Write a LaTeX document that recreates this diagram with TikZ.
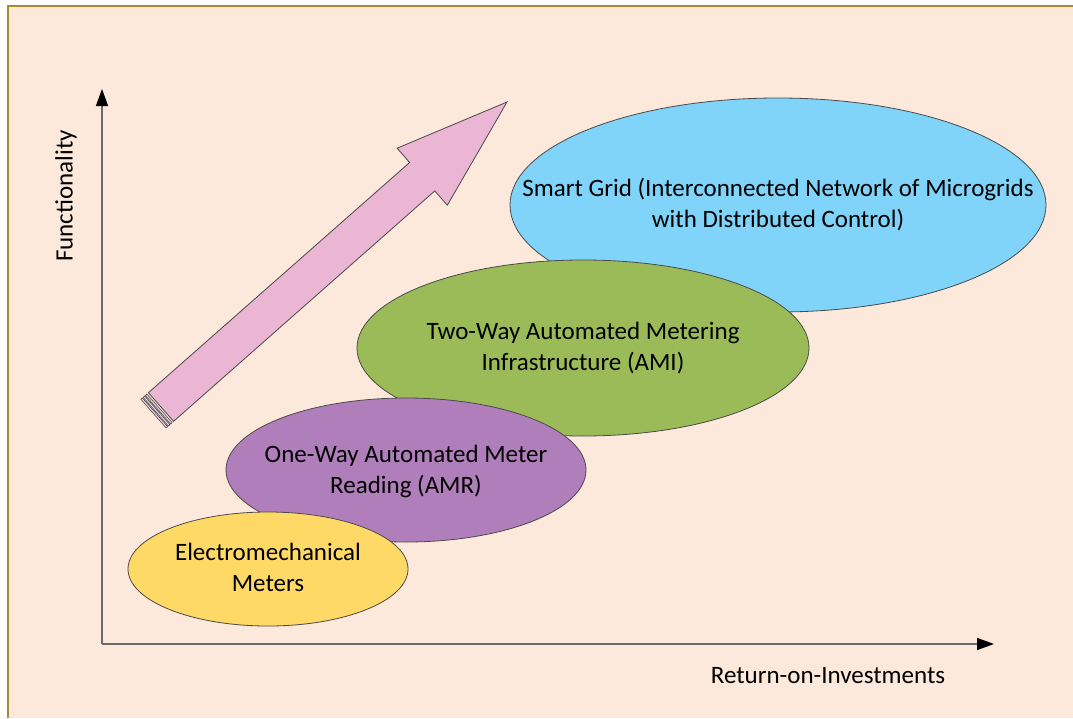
\documentclass[tikz,border=0pt]{standalone}
\usepackage{fontspec}
\setmainfont{Carlito}
\usetikzlibrary{arrows.meta,shapes.geometric,calc}

\definecolor{pagebg}{HTML}{FCE9DB}
\definecolor{framecol}{HTML}{A88B2C}
\definecolor{edgecol}{HTML}{4A4A4A}
\definecolor{meteryellow}{HTML}{FFD966}
\definecolor{amrpurple}{HTML}{B07EBA}
\definecolor{amigreen}{HTML}{9BBB59}
\definecolor{gridblue}{HTML}{80D4FA}
\definecolor{trendpink}{HTML}{EBB5D4}
\definecolor{axiscol}{HTML}{6B6B6B}

\tikzset{
  stage/.style={ellipse, draw=edgecol, line width=0.8pt, inner sep=0pt},
  stagetext/.style={align=center, inner sep=0pt, font=\fontsize{25}{31}\selectfont},
  axis/.style={draw=axiscol, line width=1.3pt,
    -{Triangle[length=17pt,width=12pt,fill=black,color=black]}},
  axislabel/.style={font=\fontsize{25}{28}\selectfont, inner sep=0pt},
}

\begin{document}
\begin{tikzpicture}[x=1pt,y=-1pt]
\useasboundingbox (0,0) rectangle (1073,718);

% page background with its framed top and left edges
\fill[white] (0,0) rectangle (1073,718);
\fill[pagebg] (8,6) rectangle (1073,718);
\draw[framecol, line width=1.5pt] (8,718) -- (8,6) -- (1073,6);

% axes
\coordinate (origin) at (102,644);
\coordinate (ytop) at (102,89);
\coordinate (xend) at (994,644);
\draw[axis] (origin) -- (ytop);
\draw[axis] (origin) -- (xend);
\node[axislabel, rotate=90] (flabel) at (66,196) {Functionality};
\node[axislabel] (rlabel) at (828,676) {Return-on-Investments};

% trend arrow (striped tail)
\fill[trendpink, draw=edgecol, line width=0.8pt]
  (148.4,392.7) -- (409.6,162.5) -- (397.1,148.2) -- (507,102)
  -- (447.3,205.2) -- (434.8,190.9) -- (173.6,421.3) -- cycle;
\foreach \d/\w in {2.0/2.0, 5.0/2.0, 8.0/2.0}{
  \fill[trendpink!60!white, draw=edgecol, line width=0.6pt]
    ($(148.4,392.7)+(-0.750*\d,0.661*\d)$) -- ($(173.6,421.3)+(-0.750*\d,0.661*\d)$)
    -- ($(173.6,421.3)+(-0.750*\d-0.750*\w,0.661*\d+0.661*\w)$)
    -- ($(148.4,392.7)+(-0.750*\d-0.750*\w,0.661*\d+0.661*\w)$) -- cycle;
}

% stages, back to front
\node[stage, fill=gridblue, minimum width=536pt, minimum height=214pt] (grid) at (778,205) {};
\node[stagetext] (gridtext) at (grid.center)
  {Smart Grid (Interconnected Network of Microgrids\\with Distributed Control)};
\node[stage, fill=amigreen, minimum width=452pt, minimum height=176pt] (ami) at (583,348) {};
\node[stagetext] (amitext) at (ami.center)
  {Two-Way Automated Metering\\Infrastructure (AMI)};
\node[stage, fill=amrpurple, minimum width=360pt, minimum height=144pt] (amr) at (406,470) {};
\node[stagetext] (amrtext) at ($(amr.center)+(0,1)$)
  {One-Way Automated Meter\\Reading (AMR)};
\node[stage, fill=meteryellow, minimum width=280pt, minimum height=114pt] (emm) at (268,569) {};
\node[stagetext] (emmtext) at ($(emm.center)+(0,-2)$)
  {Electromechanical\\Meters};
\end{tikzpicture}
\end{document}
